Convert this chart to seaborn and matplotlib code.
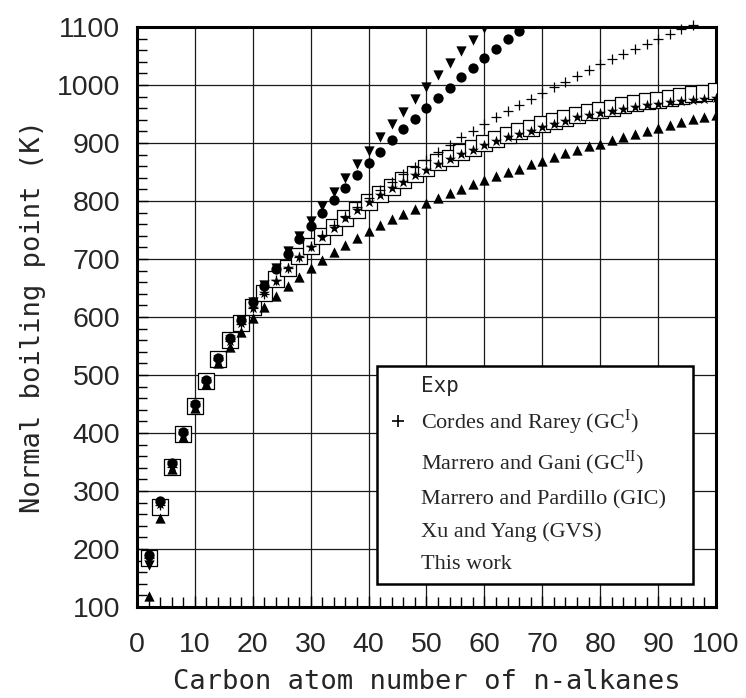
import matplotlib
matplotlib.use('Agg')
import matplotlib.pyplot as plt
from matplotlib.lines import Line2D
from matplotlib.ticker import MultipleLocator
import seaborn as sns

# carbon atom numbers of the n-alkanes (even members only)
carbon = list(range(2, 101, 2))

exp_tb = [185, 273, 342, 399, 447, 490, 527, 560, 590, 617,
          642, 665, 685, 705, 723, 740, 756, 771, 785, 799,
          812, 825, 836, 847, 857, 867, 875, 884, 892, 900,
          907, 914, 920, 926, 932, 938, 943, 948, 953, 957,
          961, 965, 969, 972, 975, 978, 981, 984, 986, 989]

cordes = [185, 275, 342, 398, 446, 488, 525, 558, 588, 615,
          640, 663, 684, 704, 723, 741, 758, 774, 790, 805,
          819, 833, 846, 859, 871, 884, 897, 910, 921, 932,
          944, 955, 965, 976, 986, 996, 1006, 1016, 1026, 1036,
          1044, 1053, 1062, 1071, 1080, 1088, 1096, 1104]

gani = [190, 283, 349, 402, 450, 491, 529, 563, 595, 626,
        654, 682, 708, 734, 757, 780, 802, 823, 845, 865,
        885, 905, 924, 942, 960, 978, 995, 1013, 1029, 1046,
        1062, 1079, 1093]

pardillo = [172, 278, 343, 398, 447, 488, 526, 561, 594, 625,
            655, 685, 713, 740, 766, 791, 816, 840, 864, 887,
            910, 932, 954, 976, 996, 1017, 1038, 1059, 1077, 1098]

xu_yang = [119, 254, 338, 393, 443, 484, 520, 549, 574, 598,
           618, 636, 653, 669, 684, 698, 712, 724, 736, 748,
           758, 769, 778, 787, 797, 805, 814, 821, 829, 836,
           843, 850, 856, 864, 869, 876, 882, 888, 894, 899,
           905, 911, 916, 921, 926, 931, 937, 941, 944, 948]

this_work = [183, 277, 343, 398, 447, 488, 525, 559, 589, 615,
             641, 662, 684, 703, 721, 738, 754, 770, 784, 799,
             810, 823, 833, 844, 853, 864, 872, 881, 888, 896,
             903, 910, 916, 921, 928, 933, 938, 944, 948, 951,
             956, 959, 962, 965, 968, 971, 972, 974, 976, 978]

labels = ['Exp',
          r'Cordes and Rarey (GC$^{\mathrm{I}}$)',
          r'Marrero and Gani (GC$^{\mathrm{II}}$)',
          'Marrero and Pardillo (GIC)',
          'Xu and Yang (GVS)',
          'This work']

sns.set_theme(style='white')
plt.rcParams['font.family'] = ['Liberation Sans', 'DejaVu Sans']
plt.rcParams['mathtext.fontset'] = 'custom'
plt.rcParams['mathtext.rm'] = 'Liberation Serif'

fig = plt.figure(figsize=(7.46, 6.98), dpi=100)
ax = fig.add_axes([0.1836, 0.1304, 0.7762, 0.8309])

def n(vals):
    return carbon[:len(vals)]

sns.scatterplot(x=n(exp_tb), y=exp_tb, marker='s', s=125, color='white',
                edgecolor='black', linewidth=0.9, ax=ax, zorder=3)
sns.scatterplot(x=n(cordes), y=cordes, marker='+', s=60, color='black',
                linewidth=0.9, ax=ax, zorder=4, clip_on=False)
sns.scatterplot(x=n(xu_yang), y=xu_yang, marker='^', s=55, color='black',
                edgecolor='black', linewidth=0, ax=ax, zorder=4)
sns.scatterplot(x=n(pardillo), y=pardillo, marker='v', s=55, color='black',
                edgecolor='black', linewidth=0, ax=ax, zorder=4)
sns.scatterplot(x=n(gani), y=gani, marker='o', s=55, color='black',
                edgecolor='black', linewidth=0, ax=ax, zorder=5)
sns.scatterplot(x=n(this_work), y=this_work, marker='*', s=70, color='black',
                edgecolor='black', linewidth=0, ax=ax, zorder=6)

ax.set_xlim(0, 100)
ax.set_ylim(100, 1100)
ax.xaxis.set_major_locator(MultipleLocator(10))
ax.xaxis.set_minor_locator(MultipleLocator(2))
ax.yaxis.set_major_locator(MultipleLocator(100))
ax.yaxis.set_minor_locator(MultipleLocator(20))
ax.grid(True, which='major', color='#1a1a1a', linewidth=0.9)
ax.set_axisbelow(True)

for sp in ax.spines.values():
    sp.set_color('black')
    sp.set_linewidth(2.2)

ax.tick_params(which='both', direction='in', left=True, bottom=True,
               top=False, right=False, color='black')
ax.tick_params(which='major', length=8, width=1, labelsize=20.5)
ax.tick_params(axis='x', which='major', pad=18)
ax.tick_params(axis='y', which='major', pad=12)
ax.tick_params(which='minor', length=7, width=1)

mono = 'DejaVu Sans Mono'
ax.set_xlabel('Carbon atom number of n-alkanes', family=mono, fontsize=19.5,
              labelpad=8)
ax.set_ylabel('Normal boiling point (K)', family=mono, fontsize=19.5,
              labelpad=8)

# the legend of the original shows only the "+" symbol
blank = Line2D([], [], linestyle='none', marker='None')
handles = [blank,
           Line2D([], [], linestyle='none', marker='+', color='black',
                  markersize=9, markeredgewidth=1.2),
           blank, blank, blank, blank]
leg = ax.legend(handles, labels, loc='upper left',
                bbox_to_anchor=(0.4145, 0.0414, 0.5455, 0.3741),
                mode='expand', borderaxespad=0, fancybox=False,
                framealpha=1, edgecolor='black',
                handlelength=1.0, handletextpad=0.55, labelspacing=0.52,
                borderpad=0.45, prop={'family': 'Liberation Serif', 'size': 16})
leg.get_frame().set_linewidth(1.8)
leg.get_texts()[0].set_family(mono)
leg.get_texts()[0].set_fontsize(15)

fig.savefig('out.png', dpi=100)
